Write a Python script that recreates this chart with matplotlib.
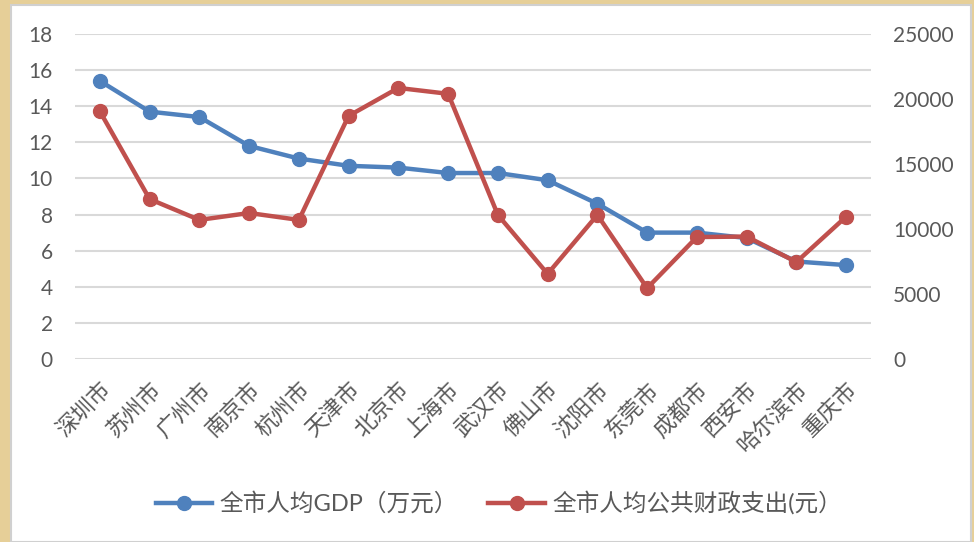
import matplotlib.pyplot as plt
from matplotlib.patches import Rectangle

# 数据
cities = ['深圳市', '苏州市', '广州市', '南京市', '杭州市', '天津市', '北京市', '上海市',
          '武汉市', '佛山市', '沈阳市', '东莞市', '成都市', '西安市', '哈尔滨市', '重庆市']
gdp = [15.4, 13.7, 13.4, 11.8, 11.1, 10.7, 10.6, 10.3, 10.3, 9.9, 8.6, 7.0, 7.0, 6.7, 5.4, 5.2]
spend = [19050, 12300, 10700, 11230, 10700, 18700, 20850, 20400,
         11080, 6550, 11080, 5450, 9380, 9420, 7460, 10950]

plt.rcParams['font.family'] = ['Lato', 'Noto Sans CJK SC', 'DejaVu Sans']

blue = '#4F81BD'
red = '#C0504D'
grey = '#595959'

W, H = 974, 542
fig = plt.figure(figsize=(W / 100, H / 100), dpi=100)
fig.patch.set_facecolor('#E6CF98')
# white chart area
fig.patches.append(Rectangle((11 / W, 0), 960 / W, 537 / H, transform=fig.transFigure,
                             facecolor='white', edgecolor='#D0D0D0', linewidth=1.5, zorder=-5))

ax = fig.add_axes([75 / W, 1 - 359 / H, 796 / W, 325 / H])
ax.patch.set_alpha(0)
x = range(len(cities))
l1, = ax.plot(x, gdp, color=blue, lw=3.2, marker='o', ms=10, label='全市人均GDP（万元）', zorder=3)
ax.set_ylim(0, 18)
ax.set_yticks(range(0, 19, 2))
ax.set_xlim(-0.5, len(cities) - 0.5)
ax.grid(axis='y', color='#D9D9D9', lw=1.5)
ax.set_axisbelow(True)

ax2 = ax.twinx()
l2, = ax2.plot(x, spend, color=red, lw=3.2, marker='o', ms=10, label='全市人均公共财政支出(元）', zorder=3)
ax2.set_ylim(0, 25000)
ax2.set_yticks(range(0, 25001, 5000))

for a in (ax, ax2):
    for s in a.spines.values():
        s.set_visible(False)
    a.tick_params(length=0, labelsize=15, labelcolor=grey)
ax.tick_params(axis='y', pad=16)
ax2.tick_params(axis='y', pad=16)

ax.set_xticks(list(x))
ax.set_xticklabels(cities, rotation=45, ha='right', rotation_mode='anchor', fontsize=16)
ax.tick_params(axis='x', pad=14)

fig.legend(handles=[l1, l2], loc='center', bbox_to_anchor=(0.512, 1 - 503 / H), ncol=2,
           frameon=False, fontsize=17, handlelength=2.4, columnspacing=1.3,
           labelcolor=grey, handletextpad=0.3)

fig.savefig('out.png', dpi=100, facecolor=fig.get_facecolor())
